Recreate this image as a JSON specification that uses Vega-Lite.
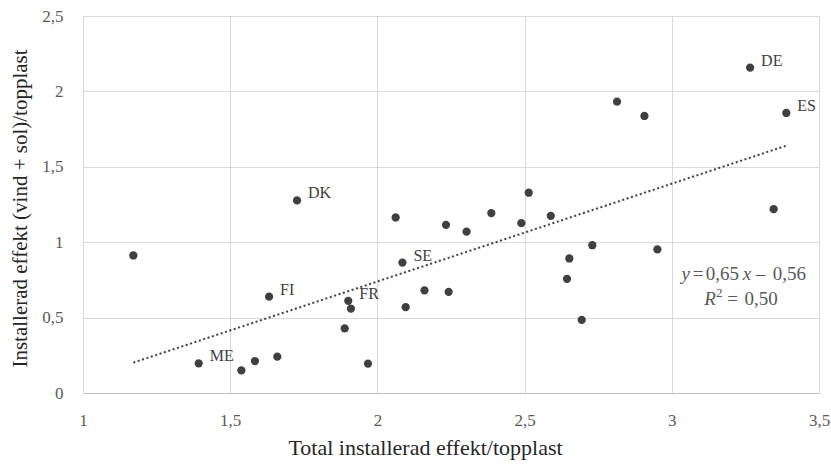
{
  "$schema": "https://vega.github.io/schema/vega-lite/v6.json",
  "autosize": "none",
  "width": 736,
  "height": 377,
  "padding": {"left": 83, "top": 16, "right": 12, "bottom": 72},
  "background": "white",
  "config": {
    "locale": {"number": {"decimal": ",", "thousands": " ", "grouping": [3], "currency": ["", " kr"]}},
    "font": "Liberation Serif",
    "view": {"stroke": null},
    "axis": {
      "labelFont": "Liberation Serif",
      "titleFont": "Liberation Serif",
      "labelFontSize": 17,
      "titleFontWeight": "normal",
      "labelColor": "#595959",
      "titleColor": "#262626",
      "gridColor": "#d9d9d9",
      "gridWidth": 1,
      "ticks": false,
      "labelFlush": false
    }
  },
  "datasets": {
    "pts": [
      {"x": 1.171, "y": 0.912, "label": null},
      {"x": 1.632, "y": 0.639, "label": "FI"},
      {"x": 1.393, "y": 0.197, "label": "ME"},
      {"x": 1.538, "y": 0.150, "label": null},
      {"x": 1.584, "y": 0.212, "label": null},
      {"x": 1.660, "y": 0.241, "label": null},
      {"x": 1.889, "y": 0.429, "label": null},
      {"x": 1.901, "y": 0.611, "label": "FR"},
      {"x": 1.910, "y": 0.560, "label": null},
      {"x": 1.968, "y": 0.195, "label": null},
      {"x": 2.085, "y": 0.865, "label": "SE"},
      {"x": 2.096, "y": 0.569, "label": null},
      {"x": 1.727, "y": 1.277, "label": "DK"},
      {"x": 2.062, "y": 1.164, "label": null},
      {"x": 3.266, "y": 2.158, "label": "DE"},
      {"x": 2.814, "y": 1.932, "label": null},
      {"x": 2.907, "y": 1.837, "label": null},
      {"x": 3.389, "y": 1.857, "label": "ES"},
      {"x": 2.514, "y": 1.328, "label": null},
      {"x": 2.387, "y": 1.193, "label": null},
      {"x": 2.233, "y": 1.115, "label": null},
      {"x": 2.303, "y": 1.070, "label": null},
      {"x": 2.489, "y": 1.126, "label": null},
      {"x": 2.589, "y": 1.175, "label": null},
      {"x": 3.346, "y": 1.219, "label": null},
      {"x": 2.730, "y": 0.980, "label": null},
      {"x": 2.951, "y": 0.952, "label": null},
      {"x": 2.652, "y": 0.892, "label": null},
      {"x": 2.644, "y": 0.757, "label": null},
      {"x": 2.160, "y": 0.681, "label": null},
      {"x": 2.242, "y": 0.671, "label": null},
      {"x": 2.694, "y": 0.485, "label": null}
    ],
    "eqNormal": [
      {"x": 3.071, "y": 0.790, "t": "="},
      {"x": 3.115, "y": 0.790, "t": "0,65"},
      {"x": 3.285, "y": 0.790, "t": "–"},
      {"x": 3.343, "y": 0.790, "t": "0,56"},
      {"x": 3.188, "y": 0.624, "t": "="},
      {"x": 3.247, "y": 0.624, "t": "0,50"}
    ],
    "eqItalic": [
      {"x": 3.0326, "y": 0.790, "t": "y"},
      {"x": 3.2408, "y": 0.790, "t": "x"},
      {"x": 3.110, "y": 0.624, "t": "R"}
    ],
    "eqSup": [
      {"x": 3.150, "y": 0.664, "t": "2"}
    ]
  },
  "layer": [
    {
      "data": {"name": "pts"},
      "transform": [{"regression": "y", "on": "x"}],
      "mark": {"type": "line", "color": "#404040", "strokeWidth": 2, "strokeDash": [2, 2.6], "strokeCap": "butt"},
      "encoding": {
        "x": {"field": "x", "type": "quantitative",
          "scale": {"domain": [1, 3.5], "nice": false, "zero": false},
          "axis": {"values": [1, 1.5, 2, 2.5, 3, 3.5], "format": ".1~f", "title": "Total installerad effekt/topplast",
            "titleFontSize": 22, "domainColor": "#bfbfbf", "labelPadding": 19, "titlePadding": 9, "titleX": 342}},
        "y": {"field": "y", "type": "quantitative",
          "scale": {"domain": [0, 2.5], "nice": false},
          "axis": {"values": [0, 0.5, 1, 1.5, 2, 2.5], "format": ".1~f", "title": "Installerad effekt (vind + sol)/topplast",
            "titleFontSize": 21, "domainColor": "#d9d9d9", "labelPadding": 20, "titlePadding": 11, "titleY": 192}}
      }
    },
    {
      "data": {"name": "pts"},
      "mark": {"type": "circle", "size": 68, "color": "#404040", "opacity": 1},
      "encoding": {
        "x": {"field": "x", "type": "quantitative"},
        "y": {"field": "y", "type": "quantitative"}
      }
    },
    {
      "data": {"name": "pts"},
      "transform": [{"filter": "datum.label != null"}],
      "mark": {"type": "text", "align": "left", "baseline": "middle", "dx": 11, "dy": -7, "fontSize": 16, "color": "#404040", "font": "Liberation Serif"},
      "encoding": {
        "x": {"field": "x", "type": "quantitative"},
        "y": {"field": "y", "type": "quantitative"},
        "text": {"field": "label"}
      }
    },
    {
      "data": {"name": "eqNormal"},
      "mark": {"type": "text", "align": "left", "baseline": "middle", "fontSize": 19, "color": "#595959", "font": "Liberation Serif"},
      "encoding": {
        "x": {"field": "x", "type": "quantitative"},
        "y": {"field": "y", "type": "quantitative"},
        "text": {"field": "t"}
      }
    },
    {
      "data": {"name": "eqItalic"},
      "mark": {"type": "text", "align": "left", "baseline": "middle", "fontSize": 19, "fontStyle": "italic", "color": "#595959", "font": "Liberation Serif"},
      "encoding": {
        "x": {"field": "x", "type": "quantitative"},
        "y": {"field": "y", "type": "quantitative"},
        "text": {"field": "t"}
      }
    },
    {
      "data": {"name": "eqSup"},
      "mark": {"type": "text", "align": "left", "baseline": "middle", "fontSize": 13, "color": "#595959", "font": "Liberation Serif"},
      "encoding": {
        "x": {"field": "x", "type": "quantitative"},
        "y": {"field": "y", "type": "quantitative"},
        "text": {"field": "t"}
      }
    }
  ]
}
